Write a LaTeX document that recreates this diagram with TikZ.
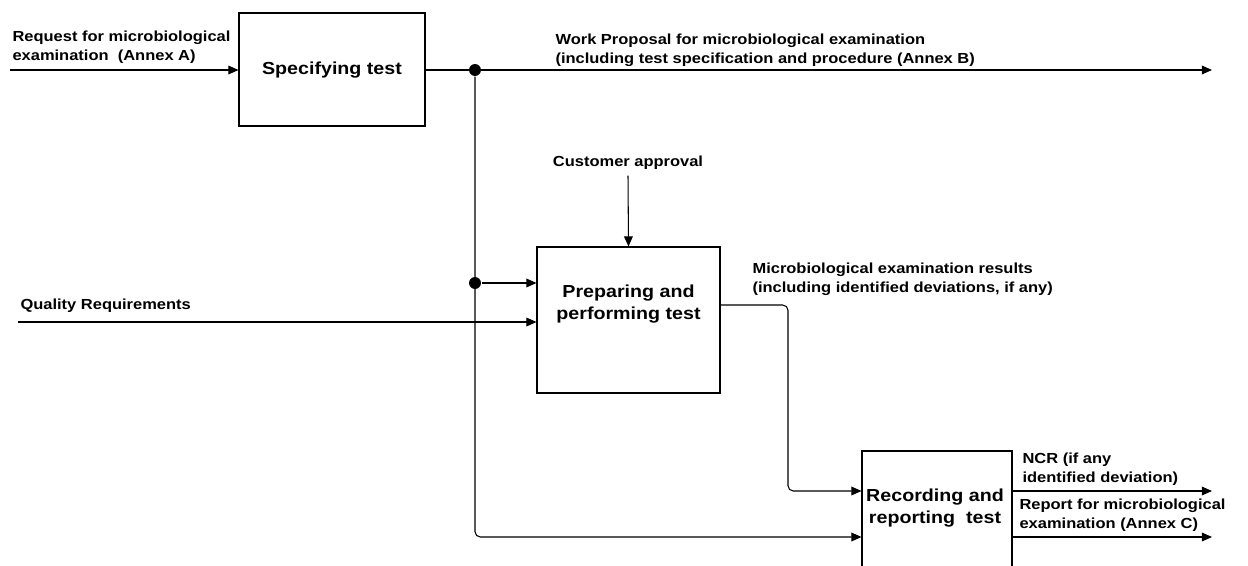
\documentclass[tikz,border=0pt]{standalone}
\usepackage{fontspec}
\setmainfont{Liberation Sans}[FakeStretch=1.13]
\usepackage{xcolor}
\usetikzlibrary{arrows.meta,positioning,calc}

\begin{document}
\begin{tikzpicture} [ % 先定义样式 (坐标单位 = 像素)
            x=0.02cm, y=-0.02cm, line width=0.6pt,
            >={Triangle[length=5.8pt,width=5pt]},
            font=\bfseries\fontsize{8.3}{10.6}\selectfont,
            plain/.style = {draw=none, inner sep=0pt, align=left, anchor=west},
            process/.style = {draw, rectangle, inner sep=0pt, align=center},
            boxtext/.style = {draw=none, inner sep=0pt, align=center,
                              font=\bfseries\fontsize{9.9}{13}\selectfont},
            junction/.style = {circle, fill, inner sep=0pt, minimum size=6.8pt}
        ]

        % 画布
        \clip (0,0) rectangle (1248,565);

        % 宏
        \pgfmathsetmacro{\jx}{475}; % 竖线的横坐标
        \pgfmathsetmacro{\bx}{788}; % 结果线拐弯的横坐标

        % 方框
        \node [process, minimum width=3.72cm, minimum height=2.26cm] (spec) at (332,69.5) {};
        \node [process, minimum width=3.66cm, minimum height=2.92cm] (prep) at (628.5,320) {};
        \node [process, minimum width=3.0cm, minimum height=2.6cm] (rec) at (937,516) {};
        \node [boxtext] (spectxt) at (332,70) {Specifying test};
        \node [boxtext] (preptxt) at (628.5,304) {Preparing and\\performing test};
        \node [boxtext] (rectxt) at (935,508) {Recording and\\reporting\ \ test};

        % 连接点
        \node [junction] (j1) at (\jx,70) {};
        \node [junction] (j2) at (\jx,283) {};
        \coordinate (j3) at (\jx,537);

        % 文字
        \node [plain] (lreq) at (12,47) {Request for microbiological\\examination\ \ (Annex A)};
        \node [plain] (lwp) at (555,50) {Work Proposal for microbiological examination\\(including test specification and procedure (Annex B)};
        \node [plain, anchor=center] (lcust) at (628,163) {Customer approval};
        \node [plain] (lqual) at (20,306) {Quality Requirements};
        \node [plain] (lres) at (752,279) {Microbiological examination results\\(including identified deviations, if any)};
        \node [plain] (lncr) at (1022,469) {NCR (if any\\identified deviation)};
        \node [plain] (lrep) at (1019,515) {Report for microbiological\\examination (Annex C)};

        % 端点
        \coordinate (reqin) at (10,70);
        \coordinate (wpout) at (1212,70);
        \coordinate (qin) at (18,322);
        \coordinate (r1) at (\bx,305);
        \coordinate (r2) at (\bx,491);
        \coordinate (ncrout) at (1212,491);
        \coordinate (repout) at (1212,537);

        % 连线
        \draw [->] (reqin) -- (spec.west |- reqin);
        \draw [->] (spec.east |- wpout) -- (wpout);
        \draw [->, rounded corners=3pt] (j1) -- (j3) -- (rec.west |- j3);
        \draw [->] (j2) -- (prep.west |- j2);
        \draw [->] (qin) -- (prep.west |- qin);
        \draw [->] ([yshift=-3pt]lcust.south) -- (prep.north);
        \draw [->, rounded corners=3pt] (prep.east |- r1) -- (r1) -- (r2) -- (rec.west |- r2);
        \draw [->] (rec.east |- ncrout) -- (ncrout);
        \draw [->] (rec.east |- repout) -- (repout);

    \end{tikzpicture}
\end{document}
